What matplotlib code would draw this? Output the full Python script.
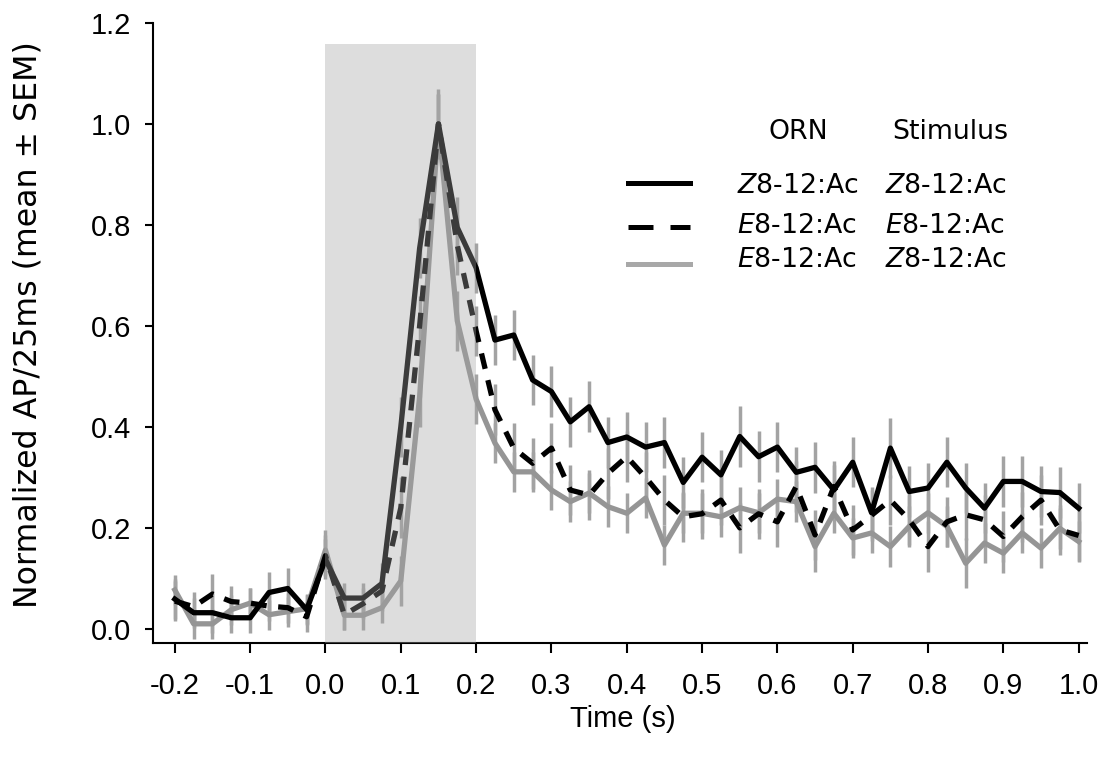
import numpy as np
import matplotlib
matplotlib.use('Agg')
import matplotlib.pyplot as plt
from matplotlib.ticker import FormatStrFormatter
from matplotlib.lines import Line2D

plt.rcParams['font.family'] = ['Liberation Sans', 'DejaVu Sans']
plt.rcParams['axes.unicode_minus'] = False

# время, бины по 25 мс
time = np.round(np.arange(49) * 0.025 - 0.2, 3)

# ORN Z / стимул Z (сплошная чёрная)
zz_mean = [0.059, 0.032, 0.032, 0.022, 0.022, 0.072, 0.080, 0.038,
           0.138, 0.061, 0.061, 0.090, 0.400, 0.754, 1.000, 0.795, 0.715,
           0.572, 0.582, 0.493, 0.470, 0.410, 0.440, 0.369, 0.380, 0.360,
           0.369, 0.290, 0.340, 0.305, 0.381, 0.341, 0.360, 0.310, 0.320,
           0.275, 0.330, 0.230, 0.358, 0.272, 0.279, 0.330, 0.279, 0.239,
           0.292, 0.292, 0.272, 0.270, 0.239]
zz_sem = [0.04, 0.03, 0.04, 0.03, 0.03, 0.04, 0.04, 0.03,
          0.04, 0.03, 0.03, 0.04, 0.06, 0.06, 0.06, 0.06, 0.05,
          0.05, 0.05, 0.05, 0.05, 0.05, 0.05, 0.05, 0.05, 0.05,
          0.05, 0.05, 0.05, 0.05, 0.06, 0.05, 0.05, 0.05, 0.05,
          0.05, 0.05, 0.05, 0.06, 0.05, 0.05, 0.05, 0.05, 0.05,
          0.05, 0.05, 0.05, 0.05, 0.05]

# ORN E / стимул E (пунктир)
ee_mean = [0.055, 0.044, 0.069, 0.054, 0.051, 0.045, 0.042, 0.024,
           0.145, 0.028, 0.050, 0.075, 0.240, 0.600, 1.000, 0.760, 0.590,
           0.434, 0.358, 0.328, 0.358, 0.275, 0.265, 0.308, 0.341, 0.300,
           0.255, 0.222, 0.228, 0.255, 0.200, 0.228, 0.212, 0.282, 0.186,
           0.282, 0.196, 0.225, 0.255, 0.216, 0.163, 0.212, 0.226, 0.216,
           0.183, 0.222, 0.255, 0.196, 0.185]
ee_sem = [0.04, 0.03, 0.04, 0.03, 0.03, 0.03, 0.03, 0.03,
          0.04, 0.03, 0.03, 0.04, 0.06, 0.06, 0.06, 0.06, 0.05,
          0.05, 0.05, 0.05, 0.05, 0.05, 0.05, 0.05, 0.05, 0.05,
          0.05, 0.05, 0.05, 0.05, 0.05, 0.05, 0.05, 0.05, 0.05,
          0.05, 0.05, 0.05, 0.05, 0.05, 0.05, 0.05, 0.05, 0.05,
          0.05, 0.05, 0.05, 0.05, 0.05]

# ORN E / стимул Z (серая)
ez_mean = [0.077, 0.010, 0.010, 0.038, 0.051, 0.028, 0.034, 0.040,
           0.156, 0.027, 0.027, 0.042, 0.095, 0.460, 1.000, 0.610, 0.455,
           0.368, 0.311, 0.311, 0.275, 0.252, 0.269, 0.242, 0.229, 0.259,
           0.166, 0.229, 0.229, 0.222, 0.240, 0.230, 0.257, 0.252, 0.163,
           0.229, 0.180, 0.190, 0.163, 0.203, 0.230, 0.203, 0.130, 0.170,
           0.150, 0.190, 0.160, 0.199, 0.173]
ez_sem = [0.03, 0.03, 0.03, 0.03, 0.03, 0.03, 0.03, 0.03,
          0.04, 0.03, 0.03, 0.03, 0.05, 0.06, 0.07, 0.06, 0.05,
          0.04, 0.04, 0.04, 0.04, 0.04, 0.04, 0.04, 0.04, 0.04,
          0.04, 0.04, 0.04, 0.04, 0.04, 0.04, 0.04, 0.04, 0.05,
          0.04, 0.04, 0.04, 0.04, 0.04, 0.04, 0.04, 0.05, 0.04,
          0.04, 0.04, 0.04, 0.04, 0.04]

orn_labels = [r'$\mathit{Z}$8-12:Ac', r'$\mathit{E}$8-12:Ac', r'$\mathit{E}$8-12:Ac']
stim_labels = [r'$\mathit{Z}$8-12:Ac', r'$\mathit{E}$8-12:Ac', r'$\mathit{Z}$8-12:Ac']

stim_on, stim_off, stim_top = 0.0, 0.2, 1.158
ylo, yhi = -0.028, 1.2

fig = plt.figure(figsize=(11.07, 7.58), dpi=100)
ax = fig.add_axes([0.1382, 0.1517, 0.8437, 0.818])

bar_col = '#a3a3a3'
for m, s in [(zz_mean, zz_sem), (ee_mean, ee_sem), (ez_mean, ez_sem)]:
    ax.errorbar(time, m, yerr=s, fmt='none', ecolor=bar_col, elinewidth=2.5,
                capsize=0, zorder=1)

ax.plot(time, ez_mean, color='#959595', lw=3.8, zorder=2)
ax.plot(time, ee_mean, color='black', lw=3.8, ls=(0, (3.0, 2.2)), zorder=3)
ax.plot(time, zz_mean, color='black', lw=3.8, zorder=4)

# окно стимула (полупрозрачное поверх линий)
ax.axvspan(stim_on, stim_off, ymin=0, ymax=(stim_top - ylo) / (yhi - ylo),
           color='#a4a4a4', alpha=0.365, lw=0, zorder=5)

ax.set_xlim(-0.229, 1.011)
ax.set_ylim(ylo, yhi)
ax.set_xticks(np.round(np.arange(-0.2, 1.01, 0.1), 1))
ax.set_yticks(np.round(np.arange(0, 1.21, 0.2), 1))
ax.xaxis.set_major_formatter(FormatStrFormatter('%.1f'))
ax.yaxis.set_major_formatter(FormatStrFormatter('%.1f'))

for sp in ['top', 'right']:
    ax.spines[sp].set_visible(False)
for sp in ['left', 'bottom']:
    ax.spines[sp].set_linewidth(1.5)
ax.tick_params(axis='x', direction='out', length=7, width=1.5, pad=14, labelsize=21)
ax.tick_params(axis='y', direction='out', length=6, width=1.5, pad=10, labelsize=21)

ax.set_xlabel('Time (s)', fontsize=21)
ax.xaxis.set_label_coords(0.503, -0.1)
ax.set_ylabel('Normalized AP/25ms (mean ± SEM)', fontsize=22.8, family='DejaVu Sans')
ax.yaxis.set_label_coords(-0.117, 0.513)

# легенда вручную: два столбца (ORN, Stimulus)
leg_font = dict(family='DejaVu Sans', fontsize=19.3)
ax.text(0.6906, 0.8124, 'ORN', ha='center', va='baseline', transform=ax.transAxes, **leg_font)
ax.text(0.8533, 0.8124, 'Stimulus', ha='center', va='baseline', transform=ax.transAxes, **leg_font)
handle_y = [0.7424, 0.6705, 0.6108]
text_y = [0.7263, 0.6608, 0.6070]
styles = [dict(color='black', ls='-'), dict(color='black', ls=(0, (5.0, 3.4))),
          dict(color='#a8a8a8', ls='-')]
for hy, ty, st, o, s in zip(handle_y, text_y, styles, orn_labels, stim_labels):
    ax.add_line(Line2D([0.5086, 0.575], [hy, hy], lw=3.6, transform=ax.transAxes,
                       clip_on=False, **st))
    ax.text(0.6253, ty, o, ha='left', va='baseline', transform=ax.transAxes, **leg_font)
    ax.text(0.7837, ty, s, ha='left', va='baseline', transform=ax.transAxes, **leg_font)

fig.savefig('out.png', dpi=100)
